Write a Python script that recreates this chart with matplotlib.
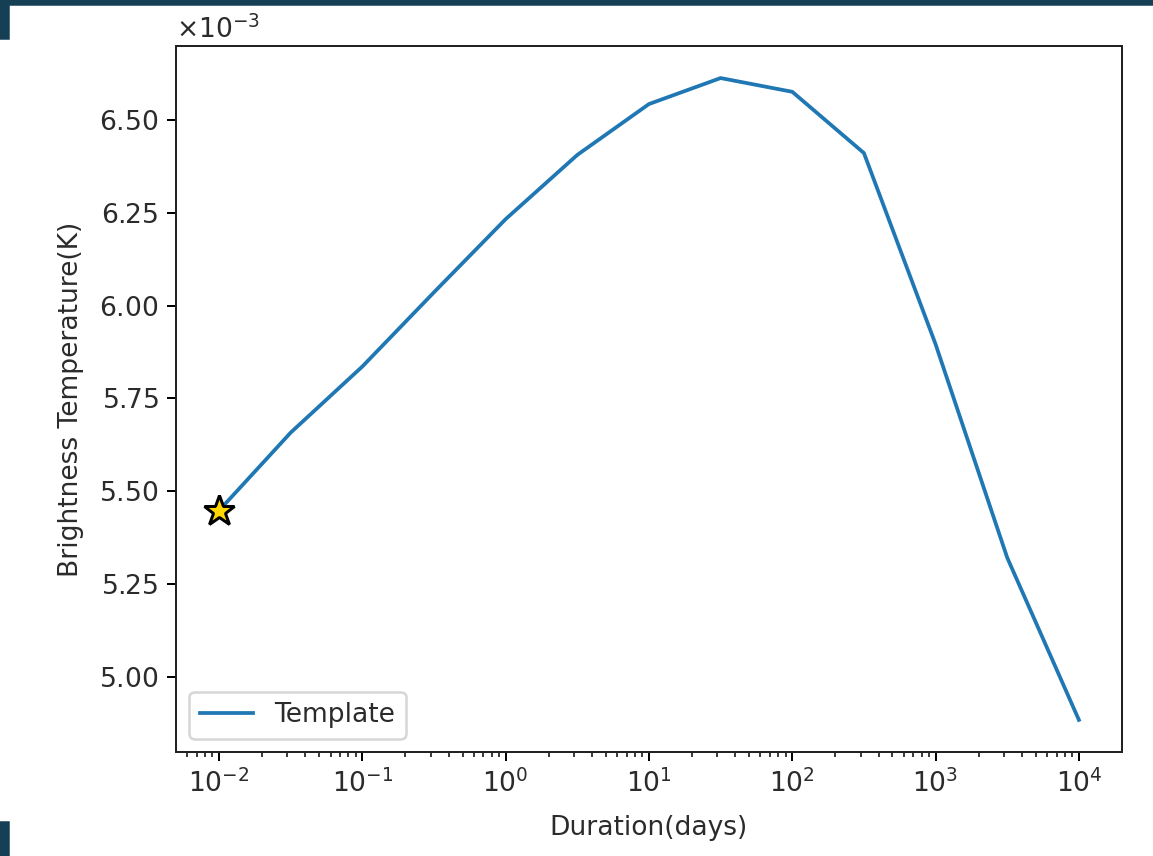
import matplotlib
matplotlib.use("Agg")
import matplotlib.pyplot as plt
import matplotlib.patches as mpatches
from matplotlib.ticker import ScalarFormatter

# Template light curve: duration (days) vs brightness temperature (K)
duration = [1e-2, 10**-1.5, 1e-1, 10**-0.5, 1e0, 10**0.5, 1e1, 10**1.5,
            1e2, 10**2.5, 1e3, 10**3.5, 1e4]
temp_mK = [5.448, 5.658, 5.836, 6.036, 6.233, 6.406, 6.543, 6.613,
           6.576, 6.411, 5.896, 5.321, 4.884]
temperature = [t * 1e-3 for t in temp_mK]

text_col = "#2b2b2b"
plt.rcParams.update({
    "font.size": 10.6,
    "text.color": text_col,
    "axes.labelcolor": text_col,
    "xtick.labelcolor": text_col,
    "ytick.labelcolor": text_col,
    "axes.edgecolor": "#222222",
})

fig = plt.figure(figsize=(1153 / 180, 856 / 180), dpi=180)
ax = fig.add_axes([0.1527, 0.1215, 0.8203, 0.8248])

ax.plot(duration, temperature, color="#1f77b4", label="Template")
ax.plot(duration[0], temperature[0], marker="*", ms=13, mfc="gold",
        mec="black", mew=1.2, linestyle="none")

ax.set_xscale("log")
fmt = ScalarFormatter(useMathText=True)
fmt.set_powerlimits((-2, 2))
ax.yaxis.set_major_formatter(fmt)
ax.set_xlabel("Duration(days)", labelpad=7)
ax.set_ylabel("Brightness Temperature(K)", labelpad=6)
ax.legend(loc="lower left")

# Dark frame strips along the edges
edge = "#143f55"
fig.patches.append(mpatches.Rectangle((0, 1 - 4 / 856), 1, 4 / 856,
                                      transform=fig.transFigure, color=edge, zorder=-1))
fig.patches.append(mpatches.Rectangle((0, 1 - 38 / 856), 8 / 1153, 38 / 856,
                                      transform=fig.transFigure, color=edge, zorder=-1))
fig.patches.append(mpatches.Rectangle((0, 0), 8 / 1153, 34 / 856,
                                      transform=fig.transFigure, color=edge, zorder=-1))

fig.savefig("out.png", dpi=180)
